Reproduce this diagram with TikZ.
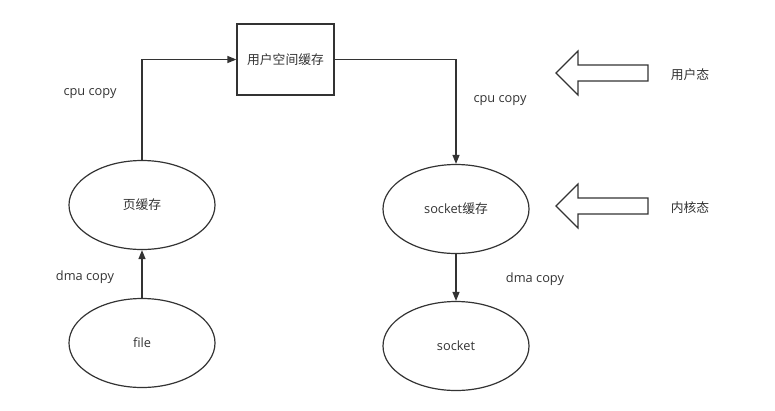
\documentclass[tikz,border=0pt]{standalone}
\usepackage{fontspec}
\setmainfont{Open Sans}
\newfontfamily\cjk{Noto Sans CJK SC}
\usetikzlibrary{arrows.meta, shapes.geometric}
\definecolor{ink}{HTML}{333333}
\begin{document}
\begin{tikzpicture}[
  x=1pt, y=-1pt,
  line width=1.2pt, draw=ink, text=ink, font=\fontsize{12.8}{15}\selectfont,
  buf/.style={ellipse, draw=ink, line width=1.2pt, minimum width=146pt, minimum height=89pt, inner sep=0pt},
  box/.style={rectangle, draw=ink, line width=1.2pt, minimum width=97pt, minimum height=71pt},
  flow/.style={draw=ink, line width=1.2pt, -{Triangle[length=9pt,width=7pt]}},
  tag/.style={font=\fontsize{12.8}{15}\selectfont, text=ink}
]
  \useasboundingbox (0,0) rectangle (775,410);
  % nodes
  \node[box] (user) at (285.5,59.5) {\cjk 用户空间缓存};
  \node[buf] (page) at (142,205) {\cjk 页缓存};
  \node[buf] (file) at (142,343) {file};
  \node[buf] (sbuf) at (456,209) {socket{\cjk 缓存}};
  \node[buf] (sock) at (456,346) {socket};
  % connectors
  \draw[flow] (file) -- (page);
  \draw[flow] (page.north) |- (user.west);
  \draw[flow] (user.east) -| (sbuf.north);
  \draw[flow] (sbuf) -- (sock);
  % labels
  \node[tag] (c1) at (90,94) {cpu copy};
  \node[tag] (d1) at (85,277) {dma copy};
  \node[tag] (c2) at (500,101) {cpu copy};
  \node[tag] (d2) at (535,279) {dma copy};
  % level arrows
  \foreach \y/\lbl/\nm in {73/用户态/us, 206/内核态/ks}{
    \draw[ink, line width=1.2pt, line join=miter]
      (556,\y) -- (578,\y-22) -- (578,\y-8) -- (648,\y-8)
      -- (648,\y+8) -- (578,\y+8) -- (578,\y+22) -- cycle;
    \node[tag] (\nm) at (690,\y+2) {\cjk\lbl};
  }
\end{tikzpicture}
\end{document}
